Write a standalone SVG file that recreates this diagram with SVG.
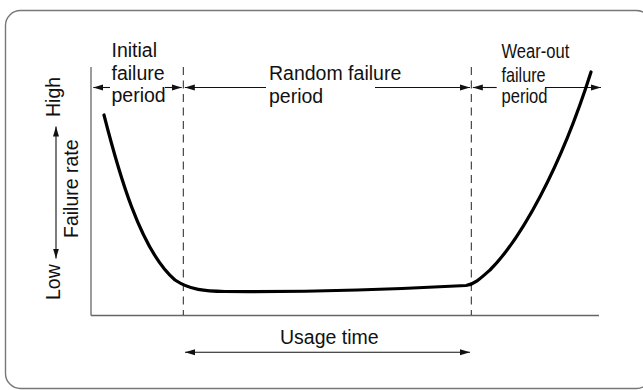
<svg xmlns="http://www.w3.org/2000/svg" width="643" height="390" viewBox="0 0 643 390">
<style>
text{font-family:"Liberation Sans",Arial,Helvetica,sans-serif;font-size:19.5px;fill:#111}
.ar{stroke:#111;stroke-width:1.1;fill:none;marker-end:url(#ah)}
.ax{stroke:#666;stroke-width:1.3;fill:none}
.dash{stroke:#222;stroke-width:1;stroke-dasharray:8 5.5;fill:none}
.curve{stroke:#000;stroke-width:3.2;fill:none;stroke-linecap:round}
</style>
<defs>
<marker id="ah" markerUnits="userSpaceOnUse" markerWidth="11" markerHeight="7" refX="10" refY="3" orient="auto-start-reverse" viewBox="0 0 11 6">
<path d="M0,0 L10,3 L0,6 z" fill="#111"/>
</marker>
</defs>
<rect x="5.5" y="10.5" width="646" height="378" rx="15" fill="#fff" stroke="#777" stroke-width="1.4"/>
<g id="axes">
<line class="ax" x1="91" y1="67" x2="91" y2="315.5"/>
<line class="ax" x1="91" y1="315.5" x2="599" y2="315.5"/>
</g>
<g id="boundaries">
<line class="dash" x1="183.3" y1="67" x2="183.3" y2="315"/>
<line class="dash" x1="471.3" y1="67" x2="471.3" y2="315"/>
</g>
<g id="connectors">
<line class="ar" x1="110" y1="87.5" x2="93.3" y2="87.5"/>
<line class="ar" x1="165" y1="87.5" x2="181.7" y2="87.5"/>
<line class="ar" x1="266" y1="87.5" x2="184.8" y2="87.5"/>
<line class="ar" x1="375" y1="87.5" x2="470" y2="87.5"/>
<line class="ar" x1="496.7" y1="87.5" x2="472.8" y2="87.5"/>
<line class="ar" x1="545" y1="87.5" x2="601" y2="87.5"/>
<line class="ar" x1="56" y1="192" x2="56" y2="126.5"/>
<line class="ar" x1="56" y1="192" x2="56" y2="258.5"/>
<line class="ar" x1="327" y1="352.3" x2="185" y2="352.3"/>
<line class="ar" x1="327" y1="352.3" x2="470" y2="352.3"/>
</g>
<g id="curve">
<path class="curve" d="M104,115 C118,170 140,250 175,280 C190,290 205,291.3 225,291.5 C300,292 400,289 466,285.5 C474,284.5 480,279 490,270 C520,240 560,170 591,72"/>
</g>
<g id="initial-label">
<text x="111.5" y="56.5">Initial</text>
<text x="111.5" y="80">failure</text>
<text x="111.5" y="102">period</text>
</g>
<g id="random-label">
<text x="269" y="80">Random failure</text>
<text x="269" y="103">period</text>
</g>
<g id="wearout-label">
<text transform="translate(501.5,58) scale(0.85,1)">Wear-out</text>
<text transform="translate(501.5,81.5) scale(0.83,1)">failure</text>
<text transform="translate(501.5,103.3) scale(0.85,1)">period</text>
</g>
<g id="y-labels">
<text transform="translate(60,117) rotate(-90)">High</text>
<text transform="translate(78,238) rotate(-90)">Failure rate</text>
<text transform="translate(60,300) rotate(-90)">Low</text>
</g>
<g id="x-label">
<text x="280" y="344">Usage time</text>
</g>
</svg>
